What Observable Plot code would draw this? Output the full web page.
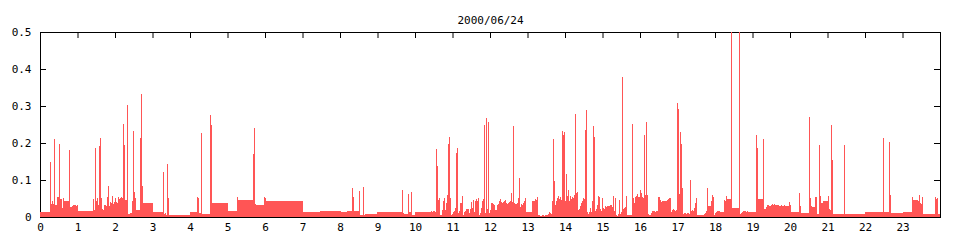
<!DOCTYPE html>
<html><head><meta charset="utf-8">
<script src="https://cdn.jsdelivr.net/npm/d3@7"></script>
<script src="https://cdn.jsdelivr.net/npm/@observablehq/plot@0.6"></script>
<style>body{margin:0;background:#fff}</style>
</head><body><div id="chart"></div>
<script>
const title = "2000/06/24";
const xTicks = [0,1,2,3,4,5,6,7,8,9,10,11,12,13,14,15,16,17,18,19,20,21,22,23];
const yTicks = [0,0.1,0.2,0.3,0.4,0.5];

// sample start times (hours) and the level held until the next sample
const hours = [
0.000,0.267,0.293,0.320,0.347,0.373,0.400,0.453,0.507,0.533,0.587,0.613,0.640,0.773,0.800,0.853,0.880,0.960,0.987,
1.013,1.413,1.440,1.467,1.493,1.520,1.547,1.573,1.600,1.627,1.653,1.680,1.707,1.760,1.787,1.813,1.840,1.867,1.893,1.920,1.947,1.973,
2.000,2.027,2.053,2.080,2.107,2.133,2.160,2.187,2.213,2.240,2.267,2.320,2.347,2.400,2.453,2.480,2.507,2.533,2.560,2.667,2.693,2.720,2.747,
3.013,3.280,3.307,3.333,3.360,3.387,3.413,3.440,
4.000,4.187,4.213,4.240,4.293,4.320,4.533,4.560,4.587,
5.013,5.253,5.280,5.680,5.707,5.733,5.760,5.973,
6.000,6.027,
7.013,7.467,
8.027,8.187,8.320,8.347,8.373,8.507,8.533,8.613,8.640,8.667,8.987,
9.653,9.680,9.707,9.813,9.840,9.893,9.920,
10.000,10.427,10.453,10.480,10.533,10.560,10.587,10.613,10.640,10.667,10.720,10.747,10.773,10.800,10.827,10.853,10.880,10.907,10.933,10.960,10.987,
11.013,11.040,11.067,11.093,11.120,11.147,11.173,11.200,11.253,11.280,11.307,11.333,11.360,11.440,11.467,11.493,11.520,11.547,11.573,11.600,11.627,11.653,11.680,11.707,11.733,11.760,11.787,11.813,11.840,11.867,11.893,11.920,11.947,11.973,
12.000,12.027,12.080,12.107,12.133,12.187,12.213,12.240,12.267,12.293,12.320,12.347,12.373,12.400,12.427,12.453,12.480,12.507,12.533,12.560,12.587,12.613,12.640,12.667,12.720,12.747,12.773,12.800,12.827,12.853,12.880,12.907,12.933,12.960,
13.120,13.200,13.227,13.253,13.280,13.333,13.387,13.440,13.467,13.547,13.573,13.600,13.627,13.653,13.680,13.707,13.733,13.760,13.787,13.813,13.840,13.867,13.893,13.920,13.947,13.973,
14.000,14.027,14.053,14.080,14.107,14.133,14.160,14.187,14.213,14.240,14.267,14.293,14.320,14.347,14.373,14.400,14.427,14.453,14.480,14.507,14.533,14.560,14.587,14.613,14.640,14.667,14.693,14.720,14.747,14.773,14.800,14.827,14.853,14.880,14.907,14.933,14.960,14.987,
15.013,15.040,15.067,15.093,15.120,15.200,15.253,15.280,15.307,15.333,15.360,15.387,15.413,15.440,15.467,15.493,15.520,15.547,15.573,15.600,15.627,15.653,15.787,15.813,15.840,15.867,15.893,15.920,15.947,
16.000,16.027,16.053,16.080,16.107,16.133,16.160,16.187,16.213,16.240,16.293,16.320,16.400,16.427,16.480,16.533,16.560,16.587,16.720,16.747,16.773,16.827,16.853,16.880,16.907,16.933,16.960,16.987,
17.013,17.040,17.067,17.093,17.120,17.147,17.173,17.227,17.253,17.307,17.333,17.360,17.387,17.413,17.440,17.467,17.493,17.520,17.707,17.733,17.760,17.787,17.813,17.893,17.920,17.947,17.973,
18.000,18.027,18.053,18.133,18.240,18.267,18.293,18.320,18.427,18.453,18.640,18.667,18.693,18.720,18.747,18.827,18.853,18.880,
19.093,19.120,19.147,19.280,19.307,19.360,19.387,19.440,19.493,19.520,19.547,19.573,19.600,19.707,19.760,19.787,19.840,19.867,19.973,
20.000,20.027,20.240,20.267,20.293,20.507,20.533,20.560,20.587,20.667,20.720,20.773,20.800,20.827,20.880,
21.013,21.040,21.067,21.093,21.120,21.147,21.440,21.467,
22.000,22.480,22.507,22.640,22.667,22.693,
23.013,23.253,23.280,23.413,23.440,23.467,23.493,23.520,23.547,23.867,23.893,23.920,23.947,24.000
];
const levels = [
0.014,0.149,0.036,0.043,0.036,0.211,0.032,0.054,0.197,0.049,0.024,0.051,0.043,0.181,0.027,0.030,0.032,0.030,0.032,
0.016,0.049,0.019,0.187,0.043,0.051,0.032,0.193,0.214,0.051,0.022,0.019,0.032,0.030,0.054,0.085,0.030,0.041,0.038,0.057,0.035,0.041,
0.051,0.041,0.038,0.054,0.049,0.051,0.054,0.051,0.251,0.195,0.046,0.303,0.008,0.011,0.043,0.232,0.068,0.051,0.019,0.214,0.332,0.084,0.038,
0.014,0.122,0.008,0.011,0.005,0.143,0.051,0.005,
0.014,0.054,0.051,0.011,0.227,0.008,0.276,0.249,0.038,
0.016,0.054,0.046,0.170,0.240,0.035,0.032,0.054,
0.051,0.043,
0.014,0.016,
0.014,0.016,0.078,0.054,0.016,0.070,0.005,0.081,0.005,0.008,0.014,
0.073,0.011,0.008,0.062,0.014,0.068,0.005,
0.014,0.016,0.014,0.016,0.014,0.184,0.138,0.046,0.051,0.005,0.019,0.043,0.051,0.019,0.038,0.059,0.197,0.216,0.051,0.005,0.008,
0.014,0.016,0.024,0.173,0.186,0.011,0.016,0.038,0.057,0.005,0.014,0.016,0.022,0.011,0.022,0.041,0.024,0.046,0.014,0.043,0.049,0.043,0.051,0.005,0.011,0.024,0.043,0.049,0.249,0.011,0.268,0.022,0.257,0.011,
0.019,0.038,0.035,0.032,0.019,0.032,0.035,0.043,0.049,0.041,0.038,0.041,0.043,0.046,0.038,0.035,0.038,0.041,0.043,0.065,0.041,0.246,0.038,0.035,0.038,0.051,0.105,0.027,0.035,0.032,0.038,0.043,0.051,0.014,
0.043,0.049,0.046,0.054,0.005,0.003,0.005,0.003,0.005,0.008,0.014,0.011,0.008,0.043,0.211,0.097,0.032,0.043,0.051,0.057,0.049,0.054,0.046,0.232,0.222,0.230,
0.043,0.116,0.057,0.073,0.043,0.057,0.049,0.054,0.051,0.059,0.278,0.065,0.068,0.019,0.022,0.030,0.038,0.043,0.051,0.049,0.235,0.289,0.014,0.008,0.014,0.024,0.014,0.043,0.246,0.216,0.016,0.022,0.032,0.057,0.054,0.022,0.016,0.051,
0.024,0.022,0.030,0.027,0.030,0.032,0.027,0.057,0.016,0.051,0.005,0.003,0.008,0.046,0.008,0.014,0.378,0.022,0.024,0.027,0.057,0.005,0.251,0.051,0.038,0.054,0.057,0.062,0.054,
0.073,0.065,0.054,0.051,0.222,0.059,0.257,0.059,0.008,0.005,0.011,0.016,0.014,0.016,0.054,0.046,0.041,0.043,0.046,0.049,0.051,0.014,0.019,0.022,0.019,0.016,0.019,0.308,
0.292,0.062,0.230,0.197,0.078,0.008,0.011,0.008,0.011,0.008,0.100,0.016,0.019,0.016,0.024,0.038,0.051,0.005,0.008,0.011,0.016,0.078,0.030,0.043,0.059,0.054,0.005,
0.011,0.014,0.016,0.014,0.046,0.043,0.057,0.049,0.550,0.024,0.550,0.008,0.011,0.014,0.016,0.014,0.016,0.014,
0.222,0.186,0.049,0.211,0.022,0.027,0.032,0.030,0.032,0.035,0.032,0.035,0.032,0.030,0.032,0.030,0.032,0.030,0.041,
0.032,0.014,0.065,0.030,0.011,0.270,0.051,0.030,0.027,0.054,0.008,0.195,0.057,0.038,0.043,
0.057,0.022,0.019,0.249,0.154,0.008,0.195,0.008,
0.014,0.214,0.014,0.203,0.059,0.011,
0.014,0.054,0.046,0.043,0.059,0.038,0.035,0.054,0.008,0.054,0.049,0.051,0.008,0.008
];

const data = hours.map((t, i) => ({t, v: levels[i]}));

const chart = Plot.plot({
  width: 960,
  height: 240,
  marginLeft: 40,
  marginRight: 20,
  marginTop: 32,
  marginBottom: 23,
  style: {fontFamily: "'DejaVu Sans Mono', monospace", fontSize: "11px", background: "#fff", color: "#000"},
  x: {domain: [0, 24], axis: null},
  y: {domain: [0, 0.5], axis: null},
  marks: [
    Plot.frame({stroke: "#000"}),
    Plot.tickX(xTicks, {x: d => d, insetBottom: 179, stroke: "#000"}),
    Plot.tickY(yTicks, {y: d => d, insetRight: 894, stroke: "#000"}),
    Plot.tickY(yTicks, {y: d => d, insetLeft: 894, stroke: "#000"}),
    Plot.axisX(xTicks, {anchor: "bottom", tickSize: 0, tickPadding: 6, tickFormat: d => String(d), label: null, fontSize: 11}),
    Plot.axisY(yTicks, {anchor: "left", tickSize: 0, tickPadding: 9, tickFormat: d => d === 0 ? "0" : d.toFixed(1), label: null, fontSize: 11}),
    Plot.areaY(data, {x: "t", y: "v", curve: "step-after", fill: "#ff5555", clip: true, shapeRendering: "crispEdges"}),
    Plot.text([title], {frameAnchor: "top", dy: -16, fontSize: 11, fill: "#000"})
  ]
});
document.getElementById("chart").appendChild(chart);
</script>
</body></html>
